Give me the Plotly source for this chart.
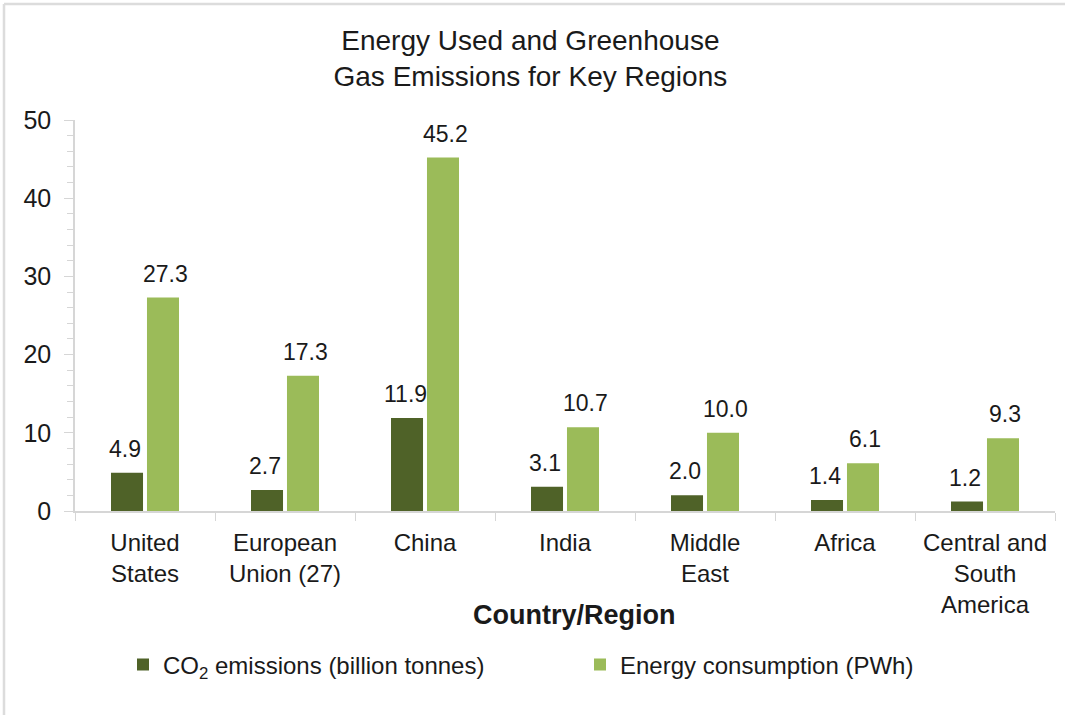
import plotly.graph_objects as go

# Regions and values
regions = ["United<br>States", "European<br>Union (27)", "China", "India",
           "Middle<br>East", "Africa", "Central and<br>South<br>America"]
co2_emissions = [4.9, 2.7, 11.9, 3.1, 2.0, 1.4, 1.2]
energy_consumption = [27.3, 17.3, 45.2, 10.7, 10.0, 6.1, 9.3]
y_ticks = [0, 10, 20, 30, 40, 50]

FONT = "Liberation Sans, Arial, sans-serif"
INK = "#1a1a1a"
DARK = "#4F6228"
LIGHT = "#9BBB59"
AXIS_GREY = "#d6d6d6"

fig = go.Figure()
fig.add_trace(go.Bar(
    x=regions, y=co2_emissions, name="CO<sub>2</sub> emissions (billion tonnes)",
    marker=dict(color=DARK, line=dict(width=0)),
))
fig.add_trace(go.Bar(
    x=regions, y=energy_consumption, name="Energy consumption (PWh)",
    marker=dict(color=LIGHT, line=dict(width=0)),
))

# value labels above each bar, shifted onto the bar of its series
for values, shift in ((co2_emissions, -20), (energy_consumption, 20)):
    for region, v in zip(regions, values):
        fig.add_annotation(x=region, y=v, xref="x", yref="y", text=f"{v:.1f}",
                           showarrow=False, xanchor="center", yanchor="bottom",
                           xshift=shift, yshift=9,
                           font=dict(size=23, family=FONT, color=INK))

fig.update_layout(
    width=1065, height=715,
    paper_bgcolor="white", plot_bgcolor="white",
    font=dict(family=FONT, color=INK),
    margin=dict(l=75, r=10, t=120, b=204),
    barmode="group", bargap=0.486, bargroupgap=0.11,
    title=dict(text="Energy Used and Greenhouse<br>Gas Emissions for Key Regions",
               x=0.498, xanchor="center", y=0.93, yanchor="middle",
               font=dict(size=28, family=FONT, color=INK)),
    showlegend=True,
    legend=dict(orientation="h", x=0.5 + 15 / 980, xanchor="center",
                yref="container", y=1 - 665 / 715, yanchor="middle",
                font=dict(size=24, family=FONT, color=INK),
                itemwidth=30, entrywidth=412),
)
fig.update_xaxes(
    showline=True, linecolor=AXIS_GREY, linewidth=1.5,
    ticks="outside", tickson="boundaries", ticklen=8, tickcolor=AXIS_GREY,
    tickfont=dict(size=24, family=FONT, color=INK), ticklabelstandoff=9,
    showgrid=False, tickangle=0, automargin=False,
)
fig.update_yaxes(
    range=[0, 50], tickvals=y_ticks, showgrid=False, zeroline=False,
    showline=True, linecolor=AXIS_GREY, linewidth=1.5,
    ticks="outside", ticklen=9, tickcolor=AXIS_GREY, ticklabelstandoff=8,
    minor=dict(ticks="outside", dtick=2, ticklen=6, tickcolor=AXIS_GREY, showgrid=False),
    tickfont=dict(size=25, family=FONT, color=INK), automargin=False,
)
fig.add_annotation(text="<b>Country/Region</b>", xref="paper", yref="paper",
                   x=0.51, y=-0.266, xanchor="center", yanchor="middle",
                   showarrow=False, font=dict(size=27, family=FONT, color=INK))

# thin frame lines along the top and left edges of the chart
fig.add_shape(type="line", xref="paper", yref="paper",
              x0=-71 / 980, x1=1 + 10 / 980, y0=(511 - 4) / 391, y1=(511 - 4) / 391,
              line=dict(color="#dcdcdc", width=2.5))
fig.add_shape(type="line", xref="paper", yref="paper",
              x0=-71 / 980, x1=-71 / 980, y0=(511 - 715) / 391, y1=(511 - 4) / 391,
              line=dict(color="#dcdcdc", width=2.5))

fig.write_html("out.html")
